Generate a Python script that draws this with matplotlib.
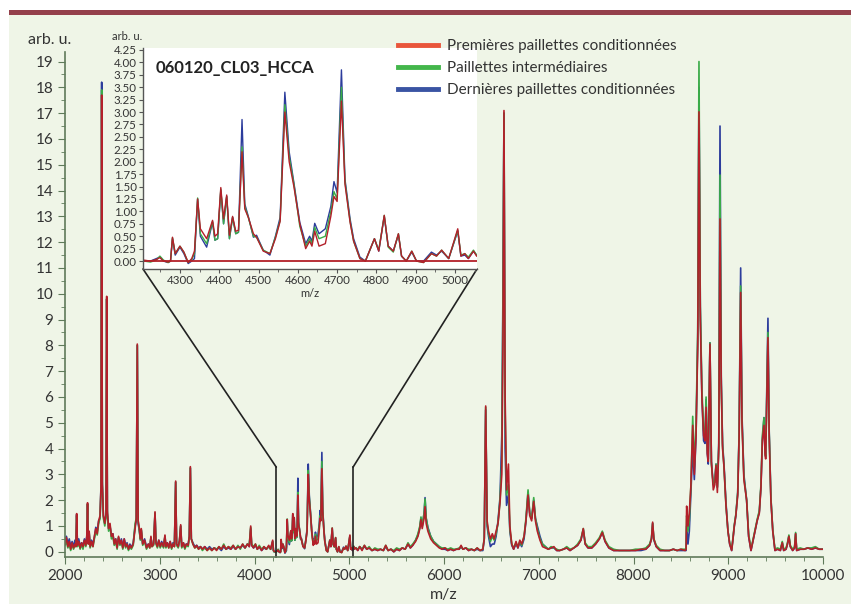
import matplotlib.pyplot as plt
from matplotlib.patches import Rectangle, ConnectionPatch
from matplotlib.lines import Line2D
from matplotlib.ticker import MultipleLocator, FormatStrFormatter

plt.rcParams['font.family'] = ['Lato', 'DejaVu Sans']

# ---- données (m/z, intensité en arb. u.) ----
# partie basse 2000-4200
low_mz = [2000, 2015, 2030, 2045, 2060, 2075, 2090, 2105, 2115, 2123, 2131, 2145, 2160, 2175, 2190,
          2205, 2220, 2230, 2238, 2246, 2255, 2265, 2280, 2295, 2310, 2325, 2340, 2355, 2370, 2380,
          2387, 2394, 2405, 2420, 2433, 2440, 2447, 2460, 2475, 2490, 2505, 2520, 2535, 2550, 2565,
          2580, 2595, 2610, 2625, 2640, 2655, 2670, 2685, 2700, 2720, 2740, 2752, 2763, 2772, 2785,
          2795, 2805, 2820, 2840, 2860, 2880, 2895, 2907, 2918, 2935, 2950, 2960, 2975, 2990, 3005,
          3020, 3040, 3055, 3065, 3080, 3095, 3110, 3125, 3140, 3155, 3168, 3178, 3195, 3208, 3221,
          3232, 3250, 3265, 3280, 3300, 3312, 3323, 3333, 3350, 3370, 3390, 3410, 3430, 3450, 3475,
          3500, 3525, 3550, 3575, 3600, 3625, 3650, 3675, 3700, 3725, 3750, 3775, 3800, 3825, 3850,
          3875, 3900, 3925, 3945, 3960, 3970, 3990, 4010, 4030, 4050, 4075, 4100, 4125, 4150, 4170,
          4192, 4200]
low_red = [0.3, 0.55, 0.2, 0.4, 0.1, 0.35, 0.15, 0.3, 0.2, 1.48, 0.25, 0.4, 0.15, 0.35, 0.2,
           0.45, 0.25, 0.6, 1.9, 0.3, 0.8, 0.2, 0.4, 0.2, 0.6, 0.9, 0.7, 1.2, 1.4, 2.5,
           17.7, 2.6, 1.4, 1.1, 1.5, 9.9, 1.6, 0.9, 1.1, 0.6, 0.7, 0.3, 0.5, 0.15, 0.6,
           0.3, 0.45, 0.15, 0.5, 0.2, 0.3, 0.1, 0.25, 0.15, 0.3, 0.9, 1.3, 8.05, 1.2, 0.9,
           0.5, 0.9, 0.3, 0.45, 0.15, 0.3, 0.15, 0.6, 0.2, 0.3, 1.55, 0.35, 0.2, 0.45, 0.2,
           0.35, 0.2, 0.65, 0.2, 0.35, 0.15, 0.4, 0.15, 0.3, 0.2, 2.74, 0.3, 0.2, 0.45, 1.05,
           0.2, 0.35, 0.15, 0.3, 0.25, 0.6, 3.3, 0.5, 0.3, 0.15, 0.25, 0.1, 0.2, 0.1, 0.2,
           0.05, 0.15, 0.05, 0.15, 0.05, 0.2, 0.1, 0.25, 0.1, 0.2, 0.1, 0.25, 0.1, 0.2, 0.15,
           0.3, 0.15, 0.3, 0.2, 1.0, 0.25, 0.15, 0.3, 0.1, 0.2, 0.05, 0.2, 0.1, 0.25, 0.1,
           0.45, 0.05]
low_green = [0.25, 0.4, 0.15, 0.3, 0.05, 0.3, 0.1, 0.25, 0.2, 1.4, 0.2, 0.35, 0.1, 0.3, 0.1,
             0.4, 0.2, 0.55, 1.85, 0.3, 0.7, 0.15, 0.35, 0.2, 0.5, 0.8, 0.65, 1.1, 1.3, 2.4,
             17.9, 2.6, 1.3, 1.0, 1.4, 9.8, 1.5, 0.8, 1.0, 0.5, 0.6, 0.25, 0.4, 0.1, 0.55,
             0.25, 0.4, 0.1, 0.4, 0.15, 0.3, 0.05, 0.2, 0.1, 0.25, 1.1, 1.3, 8.0, 1.2, 0.8,
             0.45, 0.85, 0.25, 0.4, 0.1, 0.25, 0.15, 0.55, 0.2, 0.25, 1.5, 0.3, 0.15, 0.4, 0.15,
             0.3, 0.15, 0.6, 0.15, 0.3, 0.15, 0.35, 0.1, 0.3, 0.2, 2.7, 0.25, 0.15, 0.4, 1.0,
             0.15, 0.3, 0.1, 0.25, 0.2, 0.55, 3.25, 0.5, 0.3, 0.15, 0.2, 0.1, 0.2, 0.05, 0.15,
             0.05, 0.15, 0.05, 0.15, 0.1, 0.2, 0.1, 0.3, 0.1, 0.2, 0.15, 0.25, 0.1, 0.25, 0.1,
             0.3, 0.15, 0.3, 0.3, 0.95, 0.3, 0.2, 0.3, 0.1, 0.25, 0.1, 0.2, 0.1, 0.2, 0.1,
             0.4, 0.05]
low_blue = [0.45, 0.6, 0.3, 0.5, 0.2, 0.4, 0.2, 0.45, 0.3, 1.45, 0.3, 0.5, 0.2, 0.35, 0.25,
            0.5, 0.3, 0.6, 1.85, 0.35, 0.75, 0.25, 0.45, 0.3, 0.55, 0.95, 0.8, 1.2, 1.3, 2.6,
            18.2, 2.7, 1.4, 1.1, 1.4, 9.8, 1.5, 0.9, 1.0, 0.6, 0.7, 0.35, 0.5, 0.2, 0.55,
            0.3, 0.5, 0.2, 0.5, 0.25, 0.35, 0.1, 0.3, 0.15, 0.35, 1.0, 1.2, 8.0, 1.1, 0.8,
            0.5, 0.85, 0.3, 0.5, 0.2, 0.3, 0.2, 0.55, 0.25, 0.3, 1.5, 0.35, 0.25, 0.45, 0.2,
            0.4, 0.2, 0.6, 0.2, 0.35, 0.2, 0.4, 0.15, 0.35, 0.25, 2.7, 0.3, 0.2, 0.4, 1.0,
            0.2, 0.35, 0.15, 0.3, 0.3, 0.6, 3.25, 0.5, 0.35, 0.2, 0.25, 0.15, 0.2, 0.1, 0.2,
            0.1, 0.2, 0.1, 0.15, 0.1, 0.15, 0.05, 0.2, 0.1, 0.15, 0.1, 0.2, 0.1, 0.2, 0.15,
            0.25, 0.15, 0.3, 0.2, 0.9, 0.25, 0.15, 0.25, 0.1, 0.2, 0.05, 0.15, 0.1, 0.2, 0.1,
            0.4, 0.05]

# zone agrandie 4200-5060
zoom_mz = [4207, 4225, 4240, 4249, 4258, 4270, 4276, 4281, 4288, 4300, 4310, 4321, 4330, 4337, 4345,
           4352, 4368, 4383, 4389, 4396, 4404, 4411, 4419, 4426, 4434, 4442, 4449, 4458, 4465, 4474,
           4487, 4495, 4512, 4529, 4543, 4555, 4567, 4578, 4590, 4605, 4620, 4630, 4636, 4643, 4654,
           4670, 4684, 4692, 4700, 4711, 4720, 4733, 4742, 4758, 4772, 4795, 4806, 4820, 4830, 4843,
           4856, 4864, 4876, 4890, 4902, 4920, 4940, 4953, 4966, 4984, 5007, 5015, 5025, 5034, 5047,
           5055]
zoom_red = [0.02, 0.0, 0.03, 0.07, 0.0, -0.02, 0.0, 0.48, 0.15, 0.3, 0.18, -0.03, 0.05, 0.2, 1.25,
            0.65, 0.45, 0.82, 0.5, 0.55, 1.48, 0.85, 1.33, 0.52, 0.9, 0.6, 0.62, 2.2, 1.05, 0.88,
            0.55, 0.48, 0.2, 0.15, 0.45, 0.8, 3.0, 2.0, 1.5, 0.75, 0.25, 0.4, 0.3, 0.6, 0.3,
            0.35, 0.9, 1.3, 1.2, 3.22, 1.55, 0.78, 0.4, 0.05, 0.0, 0.45, 0.2, 0.92, 0.3, 0.2,
            0.55, 0.1, 0.0, 0.2, 0.0, -0.03, 0.15, 0.1, 0.22, 0.05, 0.65, 0.1, 0.15, 0.05, 0.2,
            0.1]
zoom_green = [0.0, -0.02, 0.02, 0.1, 0.02, -0.03, 0.0, 0.47, 0.15, 0.3, 0.18, -0.03, 0.03, 0.15, 1.27,
              0.55, 0.35, 0.8, 0.42, 0.45, 1.45, 0.75, 1.3, 0.45, 0.88, 0.55, 0.58, 2.3, 1.1, 0.88,
              0.5, 0.48, 0.22, 0.15, 0.48, 0.82, 3.15, 2.1, 1.55, 0.7, 0.3, 0.45, 0.35, 0.68, 0.45,
              0.5, 1.0, 1.4, 1.25, 3.5, 1.6, 0.8, 0.4, 0.05, 0.0, 0.45, 0.22, 0.92, 0.28, 0.18,
              0.55, 0.1, 0.0, 0.2, 0.0, -0.03, 0.15, 0.1, 0.22, 0.05, 0.62, 0.12, 0.15, 0.08, 0.22,
              0.12]
zoom_blue = [0.0, 0.0, 0.05, 0.08, 0.0, -0.03, 0.0, 0.45, 0.12, 0.28, 0.15, -0.05, 0.0, 0.05, 1.25,
             0.5, 0.28, 0.78, 0.42, 0.45, 1.42, 0.75, 1.3, 0.45, 0.88, 0.55, 0.58, 2.85, 1.15, 0.9,
             0.48, 0.52, 0.22, 0.12, 0.5, 0.88, 3.4, 2.2, 1.58, 0.78, 0.35, 0.5, 0.4, 0.76, 0.55,
             0.65, 1.1, 1.6, 1.38, 3.85, 1.65, 0.85, 0.45, 0.08, 0.0, 0.45, 0.2, 0.9, 0.3, 0.2,
             0.53, 0.1, 0.0, 0.18, 0.0, 0.0, 0.18, 0.12, 0.2, 0.05, 0.6, 0.1, 0.12, 0.05, 0.2,
             0.12]

# partie haute 5070-10000
high_mz = [5070, 5090, 5110, 5135, 5160, 5185, 5210, 5240, 5270, 5300, 5330, 5360, 5385, 5410, 5440,
           5470, 5500, 5530, 5560, 5590, 5620, 5645, 5670, 5700, 5725, 5745, 5757, 5770, 5790, 5800,
           5812, 5830, 5860, 5890, 5920, 5950, 5980, 6010, 6040, 6070, 6100, 6130, 6160, 6180, 6200,
           6230, 6260, 6290, 6320, 6350, 6380, 6410, 6425, 6440, 6455, 6470, 6490, 6510, 6530, 6550,
           6570, 6591, 6610, 6622, 6633, 6645, 6660, 6680, 6695, 6715, 6735, 6760, 6780, 6800, 6820,
           6845, 6865, 6887, 6905, 6925, 6947, 6965, 6985, 7013, 7040, 7070, 7100, 7130, 7160, 7190,
           7220, 7260, 7295, 7330, 7370, 7410, 7445, 7470, 7490, 7520, 7560, 7600, 7640, 7671, 7700,
           7740, 7790, 7850, 7900, 7960, 8020, 8080, 8130, 8170, 8190, 8202, 8215, 8240, 8280, 8330,
           8380, 8420, 8460, 8500, 8545, 8555, 8561, 8575, 8589, 8605, 8625, 8642, 8660, 8678, 8691,
           8705, 8722, 8740, 8755, 8766, 8779, 8789, 8807, 8822, 8842, 8858, 8871, 8885, 8900, 8913,
           8926, 8940, 8955, 8976, 8997, 9015, 9036, 9050, 9064, 9080, 9100, 9115, 9131, 9145, 9165,
           9194, 9215, 9240, 9260, 9282, 9305, 9328, 9345, 9360, 9377, 9389, 9395, 9419, 9432, 9450,
           9470, 9493, 9520, 9550, 9570, 9585, 9610, 9625, 9640, 9655, 9680, 9700, 9711, 9722, 9760,
           9800, 9840, 9880, 9920, 9960, 10000]
high_red = [0.15, 0.05, 0.2, 0.05, 0.25, 0.1, 0.15, 0.05, 0.1, 0.05, 0.1, 0.05, 0.25, 0.05, 0.1,
            0.0, 0.1, 0.05, 0.15, 0.1, 0.3, 0.15, 0.25, 0.4, 0.6, 0.9, 1.25, 0.9, 1.3, 1.75,
            1.1, 0.8, 0.5, 0.35, 0.25, 0.15, 0.1, 0.15, 0.05, 0.1, 0.05, 0.1, 0.1, 0.25, 0.1,
            0.15, 0.05, 0.1, 0.05, 0.15, 0.05, 0.1, 0.5, 5.65, 1.2, 0.8, 0.5, 0.7, 0.5, 0.8,
            1.1, 1.9, 3.0, 8.0, 17.1, 6.0, 2.4, 3.4, 1.0, 0.3, 0.1, 0.4, 0.15, 0.45, 0.3,
            0.6, 1.2, 2.2, 1.4, 1.2, 1.95, 1.2, 0.8, 0.45, 0.2, 0.15, 0.1, 0.15, 0.2, 0.05,
            0.05, 0.1, 0.15, 0.05, 0.15, 0.25, 0.45, 0.9, 0.3, 0.15, 0.15, 0.3, 0.5, 0.75, 0.4,
            0.15, 0.05, 0.05, 0.05, 0.05, 0.05, 0.1, 0.1, 0.25, 0.5, 1.15, 0.5, 0.2, 0.05, 0.05,
            0.05, 0.1, 0.05, 0.1, 0.05, 0.1, 1.77, 1.0, 1.5, 2.5, 4.9, 3.0, 4.5, 8.0, 17.05,
            9.0, 6.0, 4.5, 4.3, 5.6, 3.8, 3.5, 8.05, 3.5, 2.4, 2.6, 3.35, 2.3, 4.0, 12.9,
            6.5, 4.0, 3.3, 1.8, 0.8, 0.3, 0.05, 0.5, 1.0, 1.4, 2.2, 4.5, 10.05, 5.0, 2.8,
            2.0, 0.6, 0.05, 0.4, 0.8, 1.2, 1.5, 2.5, 4.3, 4.9, 3.8, 3.6, 8.3, 4.5, 2.0,
            0.8, 0.05, 0.1, 0.05, 0.35, 0.05, 0.1, 0.3, 0.6, 0.2, 0.05, 0.15, 0.7, 0.05, 0.1,
            0.1, 0.15, 0.1, 0.15, 0.1, 0.1]
high_green = [0.15, 0.1, 0.2, 0.1, 0.25, 0.1, 0.2, 0.05, 0.15, 0.1, 0.1, 0.05, 0.25, 0.05, 0.1,
              0.05, 0.15, 0.1, 0.15, 0.1, 0.35, 0.2, 0.3, 0.45, 0.7, 1.0, 1.35, 1.0, 1.5, 2.05,
              1.3, 0.9, 0.6, 0.4, 0.3, 0.2, 0.15, 0.15, 0.1, 0.15, 0.1, 0.1, 0.15, 0.2, 0.1,
              0.15, 0.1, 0.1, 0.05, 0.15, 0.05, 0.1, 0.55, 5.6, 1.1, 0.7, 0.4, 0.6, 0.45, 0.7,
              1.1, 2.0, 3.5, 9.5, 17.0, 5.5, 2.2, 2.6, 0.9, 0.3, 0.15, 0.35, 0.2, 0.4, 0.25,
              0.6, 1.3, 2.4, 1.5, 1.3, 2.1, 1.3, 0.9, 0.5, 0.3, 0.2, 0.1, 0.2, 0.15, 0.1,
              0.05, 0.1, 0.2, 0.1, 0.15, 0.3, 0.5, 0.9, 0.35, 0.2, 0.2, 0.35, 0.55, 0.8, 0.45,
              0.2, 0.1, 0.05, 0.05, 0.05, 0.1, 0.1, 0.15, 0.3, 0.55, 1.1, 0.5, 0.25, 0.1, 0.05,
              0.05, 0.1, 0.05, 0.1, 0.1, 0.1, 1.4, 0.8, 1.2, 2.5, 5.25, 3.3, 5.0, 8.5, 19.0,
              9.5, 6.3, 4.7, 4.5, 6.0, 4.0, 3.6, 8.1, 3.4, 2.6, 2.7, 3.4, 2.5, 4.1, 14.6,
              6.5, 4.1, 3.3, 1.8, 0.8, 0.35, 0.1, 0.55, 1.05, 1.45, 2.3, 4.6, 10.3, 5.1, 2.9,
              2.0, 0.7, 0.1, 0.45, 0.85, 1.25, 1.6, 2.6, 4.5, 5.2, 3.9, 3.7, 8.5, 4.6, 2.1,
              0.85, 0.1, 0.15, 0.1, 0.4, 0.1, 0.15, 0.35, 0.65, 0.25, 0.1, 0.2, 0.75, 0.1, 0.15,
              0.1, 0.15, 0.15, 0.2, 0.1, 0.1]
high_blue = [0.15, 0.05, 0.2, 0.1, 0.2, 0.1, 0.15, 0.05, 0.1, 0.05, 0.1, 0.05, 0.2, 0.05, 0.1,
             0.0, 0.1, 0.05, 0.15, 0.1, 0.3, 0.15, 0.25, 0.45, 0.65, 0.95, 1.3, 1.0, 1.5, 2.1,
             1.3, 0.95, 0.6, 0.4, 0.3, 0.2, 0.1, 0.1, 0.05, 0.1, 0.05, 0.1, 0.1, 0.2, 0.1,
             0.15, 0.05, 0.1, 0.05, 0.1, 0.05, 0.05, 0.5, 5.5, 1.0, 0.6, 0.2, 0.3, 0.3, 0.6,
             1.2, 2.1, 4.5, 10.0, 17.0, 4.0, 1.8, 2.2, 0.8, 0.25, 0.1, 0.3, 0.15, 0.35, 0.2,
             0.5, 1.2, 2.3, 1.5, 1.3, 2.0, 1.3, 1.0, 0.6, 0.3, 0.2, 0.1, 0.15, 0.15, 0.05,
             0.05, 0.1, 0.15, 0.05, 0.15, 0.25, 0.45, 0.85, 0.3, 0.15, 0.15, 0.3, 0.5, 0.75, 0.4,
             0.15, 0.05, 0.05, 0.05, 0.05, 0.05, 0.05, 0.1, 0.25, 0.5, 1.1, 0.45, 0.2, 0.05, 0.05,
             0.05, 0.1, 0.05, 0.05, 0.05, 0.05, 1.0, 0.3, 0.8, 2.2, 4.0, 2.8, 4.5, 8.3, 18.0,
             9.5, 6.0, 4.3, 4.2, 5.9, 3.8, 3.4, 8.1, 3.5, 2.6, 2.7, 3.4, 2.5, 4.2, 16.5,
             6.8, 4.2, 3.4, 1.9, 0.8, 0.3, 0.05, 0.5, 1.0, 1.4, 2.3, 4.7, 11.0, 5.3, 3.0,
             2.0, 0.6, 0.05, 0.4, 0.8, 1.2, 1.55, 2.5, 4.3, 5.2, 3.9, 3.7, 9.05, 4.7, 2.1,
             0.8, 0.05, 0.1, 0.05, 0.35, 0.05, 0.1, 0.3, 0.6, 0.2, 0.05, 0.15, 0.7, 0.05, 0.1,
             0.1, 0.15, 0.1, 0.15, 0.1, 0.1]

labels = ['Premières paillettes conditionnées', 'Paillettes intermédiaires',
          'Dernières paillettes conditionnées']
inset_title = '060120_CL03_HCCA'
zoom_range = (4230, 5040)

# couleurs
bg = '#eff5e7'
bar_col = '#94404b'
axis_col = '#5f7a5a'
txt_col = '#333333'
c_red, c_green, c_blue = '#b3202a', '#3aab48', '#2c3c9c'
leg_red, leg_green, leg_blue = '#e9553b', '#43b64b', '#3a54a3'

W, H = 851, 604
fig = plt.figure(figsize=(W / 100, H / 100), dpi=100)
fig.patch.set_facecolor('white')
fig.add_artist(Rectangle((9 / W, 0), 1 - 9 / W, 1 - 10 / H, transform=fig.transFigure,
                         facecolor=bg, edgecolor='none', zorder=-2))
fig.add_artist(Rectangle((9 / W, 1 - 15 / H), 1 - 9 / W, 5 / H, transform=fig.transFigure,
                         facecolor=bar_col, edgecolor='none', zorder=-1))

# ---- spectre principal ----
ax = fig.add_axes([65 / W, 1 - 556.7 / H, 758 / W, (556.7 - 52) / H])
ax.patch.set_alpha(0)
all_mz = low_mz + zoom_mz + high_mz
all_red = low_red + zoom_red + high_red
all_green = low_green + zoom_green + high_green
all_blue = low_blue + zoom_blue + high_blue
ax.plot(all_mz, all_blue, color=c_blue, lw=1.2)
ax.plot(all_mz, all_green, color=c_green, lw=1.2)
ax.plot(all_mz, all_red, color=c_red, lw=1.2)
ax.set_xlim(2000, 10000)
ax.set_ylim(-0.19, 19.37)
ax.xaxis.set_major_locator(MultipleLocator(1000))
ax.xaxis.set_minor_locator(MultipleLocator(200))
ax.yaxis.set_major_locator(MultipleLocator(1))
ax.yaxis.set_minor_locator(MultipleLocator(0.5))
for s in ['top', 'right']:
    ax.spines[s].set_visible(False)
for s in ['left', 'bottom']:
    ax.spines[s].set_color(axis_col)
    ax.spines[s].set_linewidth(1.2)
ax.tick_params(which='both', colors=axis_col, labelcolor=txt_col, labelsize=11)
ax.tick_params(which='major', length=5)
ax.tick_params(which='minor', length=3)
ax.set_xlabel('m/z', fontsize=11.5, color=txt_col, labelpad=4)
fig.text(50 / W, 1 - 40 / H, 'arb. u.', fontsize=11.5, color=txt_col, ha='center', va='center')

# ---- encart ----
axin = fig.add_axes([143 / W, 1 - 269 / H, 334 / W, 221 / H], zorder=2)
axin.set_facecolor('white')
axin.plot(zoom_mz, zoom_blue, color=c_blue, lw=1.0)
axin.plot(zoom_mz, zoom_green, color=c_green, lw=1.0)
axin.plot(zoom_mz, zoom_red, color=c_red, lw=1.0)
axin.axhline(0, color=c_red, lw=1.3)
axin.set_xlim(4206, 5056)
axin.set_ylim(-0.16, 4.29)
axin.xaxis.set_major_locator(MultipleLocator(100))
axin.xaxis.set_minor_locator(MultipleLocator(50))
axin.yaxis.set_major_locator(MultipleLocator(0.25))
axin.yaxis.set_major_formatter(FormatStrFormatter('%.2f'))
for s in ['top', 'right']:
    axin.spines[s].set_visible(False)
for s in ['left', 'bottom']:
    axin.spines[s].set_color('#555555')
    axin.spines[s].set_linewidth(1.0)
axin.tick_params(which='both', colors='#555555', labelcolor=txt_col, labelsize=8.3,
                 length=3, pad=1.5)
axin.tick_params(which='minor', length=2)
axin.set_xlabel('m/z', fontsize=8, color=txt_col, labelpad=1)
axin.text(0.039, 0.945, inset_title, transform=axin.transAxes, fontsize=12,
          fontweight='bold', color='#222222', va='top', ha='left')
fig.text(127 / W, 1 - 36 / H, 'arb. u.', fontsize=8, color=txt_col, ha='center', va='center')

# lignes de rappel entre le spectre et l'encart
conn_top = 3.28
for i, mzv in enumerate(zoom_range):
    ax.plot([mzv, mzv], [-0.19, conn_top], color='#222222', lw=1.2, clip_on=False)
    cp = ConnectionPatch(xyA=(i, 0), coordsA=axin.transAxes, xyB=(mzv, conn_top),
                         coordsB=ax.transData, color='#222222', lw=1.2)
    fig.add_artist(cp)

# légende
handles = [Line2D([], [], color=c, lw=3.5) for c in (leg_red, leg_green, leg_blue)]
fig.legend(handles, labels, loc='upper left', bbox_to_anchor=(398 / W, 1 - 39 / H),
           frameon=False, fontsize=11, handlelength=2.6, handletextpad=0.6,
           labelspacing=0.52, borderpad=0, borderaxespad=0, labelcolor=txt_col)

fig.savefig('out.png', dpi=100)
